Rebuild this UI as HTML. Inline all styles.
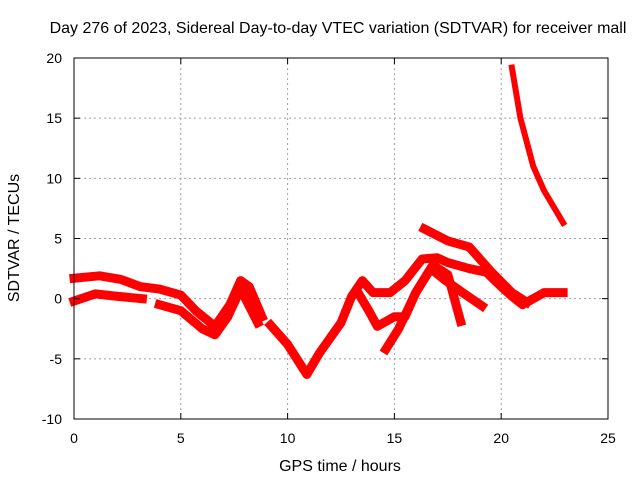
<!DOCTYPE html>
<html><head><meta charset="utf-8"><style>
body{margin:0;background:#fff;}
svg text{font-family:"Liberation Sans",sans-serif;font-size:14px;fill:#000;}
svg text.big{font-size:16px;}
</style></head><body>
<svg id="chart" width="640" height="480" viewBox="0 0 640 480" xmlns="http://www.w3.org/2000/svg">
<rect width="640" height="480" fill="#fff"/>
<g id="grid"></g><g id="series"></g><g id="axes"></g>
<text class="big" x="338" y="33" text-anchor="middle">Day 276 of 2023, Sidereal Day-to-day VTEC variation (SDTVAR) for receiver mall</text>
<text class="big" x="340" y="471" text-anchor="middle">GPS time / hours</text>
<text class="big" transform="translate(19,238) rotate(-90)" text-anchor="middle">SDTVAR / TECUs</text>
</svg>
<script>
const xTicks=[0,5,10,15,20,25];
const yTicks=[-10,-5,0,5,10,15,20];
const track1=[[0,1.7],[1.2,1.9],[2.2,1.6],[3.1,1.0],[4,0.8],[5,0.3],[5.7,-1],[6.6,-2.3],[7.3,-0.5],[7.8,1.5],[8.2,1.0],[8.8,-1.5]];
const track2=[[0,-0.2],[1,0.4],[2,0.2],[3.2,0.0]];
const track3=[[4,-0.5],[5,-1.0],[6,-2.5],[6.6,-3.0],[7.2,-1.5],[7.8,0.8],[8.6,-2.0]];
const track4=[[9.2,-2.2],[10,-3.8],[10.9,-6.3],[11.5,-4.5],[12.5,-2],[13,0.2],[13.5,1.5],[14,0.5],[14.8,0.5],[15.5,1.5],[16.3,3.3],[17,3.4],[17.5,3.0],[18.5,2.5],[19.3,2.2],[20,1.0],[20.5,0.2],[21,-0.5],[22,0.5],[22.9,0.5]];
const track5=[[16.4,5.8],[17.5,4.8],[18.5,4.3],[19.5,2.3],[20.5,0.5],[21.2,-0.3]];
const track6=[[13.3,0.5],[13.8,-1],[14.2,-2.3],[15,-1.5],[15.5,-1.5],[16,0.5],[16.8,2.8],[17.5,2.0],[18.1,-1.9]];
const track7=[[14.6,-4.2],[15.2,-2.5],[16,0.5],[16.7,2.5],[17.4,1.5],[18.2,0.5],[19.1,-0.6]];
const track8=[[20.5,19.2],[20.9,15],[21.5,11],[22,9],[22.9,6.3]];
const tracks=[track1,track2,track3,track4,track5,track6,track7,track8];
const X0=74,X1=608,Y0=419,Y1=58,xMin=0,xMax=25,yMin=-10,yMax=20;
const sx=v=>X0+(v-xMin)/(xMax-xMin)*(X1-X0);
const sy=v=>Y0-(v-yMin)/(yMax-yMin)*(Y0-Y1);
const NS="http://www.w3.org/2000/svg";
function mk(t,a,p){const e=document.createElementNS(NS,t);for(const k in a)e.setAttribute(k,a[k]);p.appendChild(e);return e;}
const grid=document.getElementById('grid'),axes=document.getElementById('axes'),ser=document.getElementById('series');
xTicks.forEach(t=>{const x=sx(t);
 if(t>xMin&&t<xMax){const g=mk('line',{x1:x,x2:x,y1:Y1,y2:Y0,stroke:'#a0a0a0','stroke-dasharray':'2,3'},grid);
 
 }
 mk('line',{x1:x,x2:x,y1:Y0,y2:Y0-6,stroke:'#000'},axes);
 mk('line',{x1:x,x2:x,y1:Y1,y2:Y1+6,stroke:'#000'},axes);
 const l=mk('text',{x:x,y:443,'text-anchor':'middle'},axes);l.textContent=t;
 
 });
yTicks.forEach(t=>{const y=sy(t);
 if(t>yMin&&t<yMax){const g=mk('line',{x1:X0,x2:X1,y1:y,y2:y,stroke:'#a0a0a0','stroke-dasharray':'2,3'},grid);
 
 }
 mk('line',{x1:X0,x2:X0+6,y1:y,y2:y,stroke:'#000'},axes);
 mk('line',{x1:X1,x2:X1-6,y1:y,y2:y,stroke:'#000'},axes);
 const l=mk('text',{x:62,y:y+5,'text-anchor':'end'},axes);l.textContent=t;
 
 });
const fr=mk('rect',{x:X0,y:Y1,width:X1-X0,height:Y0-Y1,fill:'none',stroke:'#000'},axes);


tracks.forEach((tr,i)=>{
 const p=mk('polyline',{points:tr.map(d=>sx(d[0])+','+sy(d[1])).join(' '),fill:'none',stroke:'#ff0000','stroke-width':i==7?6:9,'stroke-linejoin':'round','stroke-linecap':'square'},ser);
 
 
});
</script>
</body></html>
